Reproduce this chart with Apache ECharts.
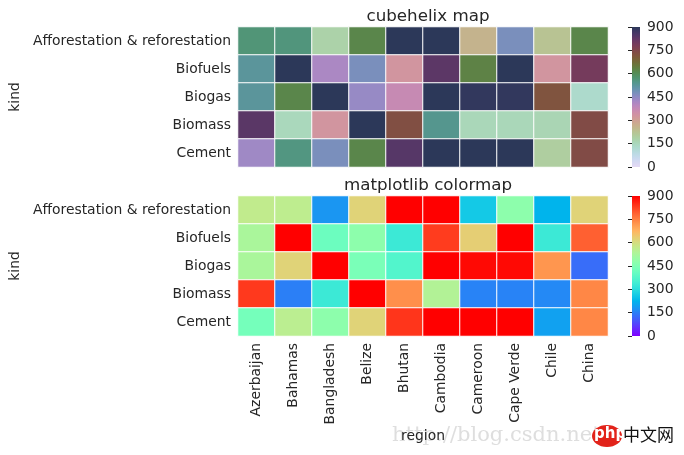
<!DOCTYPE html>
<html><head><meta charset="utf-8">
<script src="https://cdn.jsdelivr.net/npm/echarts@6/dist/echarts.min.js"></script>
<style>html,body{margin:0;padding:0;background:#fff}#c{width:684px;height:455px}</style>
</head><body><div id="c"></div>
<script>
// ---- data ----
const regions = ['Azerbaijan','Bahamas','Bangladesh','Belize','Bhutan','Cambodia','Cameroon','Cape Verde','Chile','China'];
const kinds = ['Afforestation & reforestation','Biofuels','Biogas','Biomass','Cement'];
const afforestation = [566, 560, 180, 620, 900, 900, 260, 475, 225, 620];
const biofuels      = [525, 900, 415, 475, 330, 832, 630, 900, 330, 790];
const biogas        = [525, 620, 900, 440, 370, 900, 890, 890, 720, 126];
const biomass       = [835, 150, 330, 900, 730, 540, 155, 155, 162, 740];
const cement        = [430, 555, 475, 620, 840, 900, 900, 900, 195, 740];
const colorbarTicks = [0, 150, 300, 450, 600, 750, 900];
const vmin = 0, vmax = 900;

const rows = [afforestation, biofuels, biogas, biomass, cement];
const heatData = [];
rows.forEach((r, ri) => r.forEach((v, ci) => heatData.push([ci, ri, v])));

// ---- colormaps ----
function clamp(x){ return Math.max(0, Math.min(1, x)); }
function toHex(r,g,b){ return '#' + [r,g,b].map(c => Math.round(clamp(c)*255).toString(16).padStart(2,'0')).join(''); }
function cubehelix(v){ // seaborn cubehelix_palette(start=1.5, rot=3, gamma=0.8, hue=0.8, light=.85, dark=.15)
  const start=1.5, rot=3, gamma=0.8, hue=0.8, light=0.85, dark=0.15;
  const x = light + (dark - light) * v;
  const xg = Math.pow(x, gamma);
  const a = hue * xg * (1 - xg) / 2;
  const phi = 2 * Math.PI * (start / 3 + rot * x);
  const f = (p0, p1) => xg + a * (p0 * Math.cos(phi) + p1 * Math.sin(phi));
  return toHex(f(-0.14861, 1.78277), f(-0.29227, -0.90649), f(1.97294, 0));
}
function rainbow(v){
  return toHex(Math.abs(2*v - 0.5), Math.sin(Math.PI * v), Math.cos(Math.PI * v / 2));
}
const N = 64;
const chColors = [], rbColors = [], chStops = [], rbStops = [];
for (let i = 0; i <= N; i++) {
  const t = i / N;
  chColors.push(cubehelix(t)); rbColors.push(rainbow(t));
  chStops.push({offset: 1 - t, color: cubehelix(t)});
  rbStops.push({offset: 1 - t, color: rainbow(t)});
}

const FONT = 'DejaVu Sans';
const TXT = '#262626';
const gridL = 238, gridW = 370, gridH = 140, top1 = 27, top2 = 196;
const cbL = 632, cbW = 8;

function catX(gi, showLabels){
  return {
    type: 'category', gridIndex: gi, data: regions,
    axisLine: {show: false}, splitLine: {show: false},
    axisTick: {show: true, inside: true, length: 5, alignWithLabel: true, lineStyle: {color: TXT}},
    axisLabel: {show: showLabels, rotate: 90, margin: 7, fontSize: 13.9, fontFamily: FONT, color: TXT},
    name: showLabels ? 'region' : '', nameLocation: 'middle', nameGap: 93,
    nameTextStyle: {fontSize: 13.9, fontFamily: FONT, color: TXT}
  };
}
function catY(gi){
  return {
    type: 'category', gridIndex: gi, data: kinds, inverse: true,
    axisLine: {show: false}, splitLine: {show: false},
    axisTick: {show: true, inside: true, length: 5, alignWithLabel: true, lineStyle: {color: TXT}},
    axisLabel: {margin: 7, fontSize: 13.9, fontFamily: FONT, color: TXT},
    name: 'kind', nameLocation: 'middle', nameGap: 212,
    nameTextStyle: {fontSize: 13.9, fontFamily: FONT, color: TXT}
  };
}
function cbY(gi){
  return {
    type: 'value', gridIndex: gi, min: vmin, max: vmax, interval: 150, position: 'right',
    axisLine: {show: false}, splitLine: {show: false},
    axisTick: {show: true, inside: true, length: 4, lineStyle: {color: TXT}},
    axisLabel: {margin: 7, fontSize: 13.9, fontFamily: FONT, color: TXT,
      customValues: colorbarTicks}
  };
}

const chart = echarts.init(document.getElementById('c'), null, {renderer: 'canvas'});
chart.setOption({
  animation: false,
  backgroundColor: '#fff',
  title: [
    {text: 'cubehelix map', left: gridL + gridW/2, top: 3, textAlign: 'center',
     textStyle: {fontSize: 16.7, fontWeight: 'normal', fontFamily: FONT, color: TXT}},
    {text: 'matplotlib colormap', left: gridL + gridW/2, top: 172, textAlign: 'center',
     textStyle: {fontSize: 16.7, fontWeight: 'normal', fontFamily: FONT, color: TXT}}
  ],
  grid: [
    {left: gridL, top: top1, width: gridW, height: gridH},
    {left: gridL, top: top2, width: gridW, height: gridH},
    {left: cbL, top: top1, width: cbW, height: gridH},
    {left: cbL, top: top2, width: cbW, height: gridH}
  ],
  xAxis: [catX(0, false), catX(1, true),
    {type: 'value', gridIndex: 2, show: false, min: 0, max: 1},
    {type: 'value', gridIndex: 3, show: false, min: 0, max: 1}],
  yAxis: [catY(0), catY(1), cbY(2), cbY(3)],
  visualMap: [
    {type: 'continuous', show: false, min: vmin, max: vmax, seriesIndex: 0, inRange: {color: chColors}},
    {type: 'continuous', show: false, min: vmin, max: vmax, seriesIndex: 1, inRange: {color: rbColors}}
  ],
  graphic: [
    {type: 'rect', shape: {x: cbL, y: top1, width: cbW, height: gridH}, z: 0,
     style: {fill: {type: 'linear', x: 0, y: 0, x2: 0, y2: 1, colorStops: chStops}}},
    {type: 'rect', shape: {x: cbL, y: top2, width: cbW, height: gridH}, z: 0,
     style: {fill: {type: 'linear', x: 0, y: 0, x2: 0, y2: 1, colorStops: rbStops}}},
    {type: 'text', left: 392, top: 425, z: -1, silent: true,
     style: {text: 'http://blog.csdn.net/', fontSize: 21, fontFamily: 'DejaVu Serif', fill: 'rgba(200,200,200,0.6)'}},
    {type: 'ellipse', shape: {cx: 607, cy: 436, rx: 15, ry: 11}, z: 10, style: {fill: '#e2231a'}},
    {type: 'text', left: 594, top: 427, z: 11,
     style: {text: 'php', fontSize: 15, fontFamily: 'DejaVu Sans', fill: '#fff', fontWeight: 'bold'}},
    {type: 'text', left: 623, top: 426, z: 11,
     style: {text: '中文网', fontSize: 17, fontFamily: 'Noto Sans CJK SC', fill: '#111'}}
  ],
  series: [
    {type: 'heatmap', xAxisIndex: 0, yAxisIndex: 0, data: heatData,
     itemStyle: {borderColor: '#fff', borderWidth: 1}, emphasis: {disabled: true}},
    {type: 'heatmap', xAxisIndex: 1, yAxisIndex: 1, data: heatData,
     itemStyle: {borderColor: '#fff', borderWidth: 1}, emphasis: {disabled: true}}
  ]
});
</script>
</body></html>
